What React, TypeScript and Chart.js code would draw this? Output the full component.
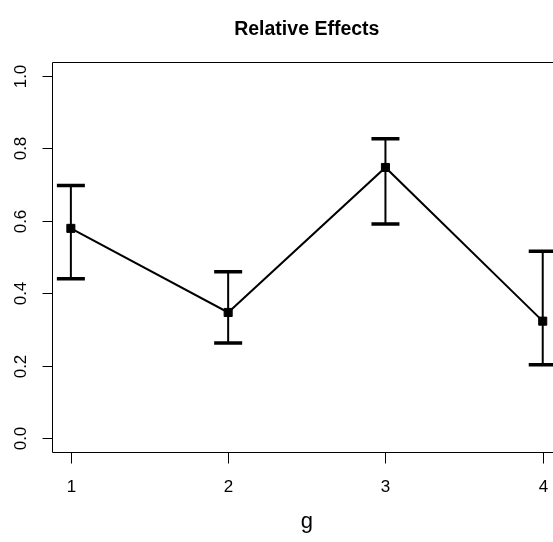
import React, { useEffect, useRef } from "react";
import { Chart, registerables } from "chart.js";

Chart.register(...registerables);

const groups = [1, 2, 3, 4];
const xTickLabels = ["1", "2", "3", "4"];
const means = [0.579, 0.347, 0.747, 0.323];
const lower = [0.44, 0.263, 0.591, 0.203];
const upper = [0.697, 0.459, 0.826, 0.516];
const yTicks = [0, 0.2, 0.4, 0.6, 0.8, 1.0];
const yTickLabels = ["0.0", "0.2", "0.4", "0.6", "0.8", "1.0"];
const titleText = "Relative Effects";
const xLabel = "g";

const FONT = "'Liberation Sans', Arial, Helvetica, sans-serif";

const decorPlugin = {
  id: "decor",
  beforeDatasetsDraw(chart: any) {
    const ctx = chart.ctx;
    const area = chart.chartArea;
    const xs = chart.scales.x;
    const ys = chart.scales.y;
    ctx.save();
    ctx.strokeStyle = "#000";
    ctx.fillStyle = "#000";
    // box
    ctx.lineWidth = 1;
    ctx.beginPath();
    ctx.moveTo(area.right + 0.5, Math.round(area.top) + 0.5);
    ctx.lineTo(Math.round(area.left) + 0.5, Math.round(area.top) + 0.5);
    ctx.lineTo(Math.round(area.left) + 0.5, Math.round(area.bottom) + 0.5);
    ctx.lineTo(area.right + 0.5, Math.round(area.bottom) + 0.5);
    ctx.lineTo(area.right + 0.5, Math.round(area.top) + 0.5);
    ctx.stroke();
    // y ticks
    const lx = Math.round(area.left) + 0.5;
    ctx.font = `17px ${FONT}`;
    yTicks.forEach((v, i) => {
      const py = Math.round(ys.getPixelForValue(v)) + 0.5;
      ctx.beginPath();
      ctx.moveTo(lx, py);
      ctx.lineTo(lx - 10, py);
      ctx.stroke();
      ctx.save();
      ctx.translate(21, py);
      ctx.rotate(-Math.PI / 2);
      ctx.textAlign = "center";
      ctx.textBaseline = "middle";
      ctx.fillText(yTickLabels[i], 0, 0);
      ctx.restore();
    });
    // x ticks
    const by = Math.round(area.bottom) + 0.5;
    groups.forEach((g, i) => {
      const px = Math.round(xs.getPixelForValue(g)) + 0.5;
      ctx.beginPath();
      ctx.moveTo(px, by);
      ctx.lineTo(px, by + 11);
      ctx.stroke();
      ctx.textAlign = "center";
      ctx.textBaseline = "middle";
      ctx.fillText(xTickLabels[i], px, 487);
    });
    const cx = (area.left + area.right) / 2;
    // x label
    ctx.font = `22px ${FONT}`;
    ctx.textAlign = "center";
    ctx.textBaseline = "middle";
    ctx.fillText(xLabel, cx, 522);
    // title
    ctx.font = `bold 19.5px ${FONT}`;
    ctx.fillText(titleText, cx, 30);
    // error bars
    groups.forEach((g, i) => {
      const px = xs.getPixelForValue(g);
      const pl = ys.getPixelForValue(lower[i]);
      const pu = ys.getPixelForValue(upper[i]);
      ctx.lineWidth = 2;
      ctx.beginPath();
      ctx.moveTo(px, pl);
      ctx.lineTo(px, pu);
      ctx.stroke();
      ctx.lineWidth = 3.5;
      ctx.beginPath();
      ctx.moveTo(px - 14, pl);
      ctx.lineTo(px + 14, pl);
      ctx.moveTo(px - 14, pu);
      ctx.lineTo(px + 14, pu);
      ctx.stroke();
    });
    ctx.restore();
  },
};

export default function App() {
  const ref = useRef<HTMLCanvasElement | null>(null);
  useEffect(() => {
    if (!ref.current) return;
    const chart = new Chart(ref.current, {
      type: "line",
      data: {
        datasets: [
          {
            data: groups.map((g, i) => ({ x: g, y: means[i] })),
            borderColor: "#000",
            backgroundColor: "#000",
            borderWidth: 2,
            tension: 0,
            pointStyle: "rect",
            pointRadius: 5.7,
            pointBorderWidth: 1,
            pointBackgroundColor: "#000",
            pointBorderColor: "#000",
          },
        ],
      },
      options: {
        responsive: false,
        animation: false,
        devicePixelRatio: 1,
        layout: { padding: { left: 52, top: 62, right: 38.4, bottom: 90 } },
        plugins: { legend: { display: false }, tooltip: { enabled: false }, title: { display: false } },
        scales: {
          x: { type: "linear", min: 0.88, max: 4.12, display: false },
          y: { type: "linear", min: -0.038, max: 1.038, display: false },
        },
      },
      plugins: [decorPlugin],
    });
    return () => chart.destroy();
  }, []);
  return (
    <div style={{ position: "fixed", left: 0, top: 0, width: 553, height: 542, overflow: "hidden", background: "#fff" }}>
      <canvas ref={ref} width={600} height={542} style={{ display: "block" }} />
    </div>
  );
}
